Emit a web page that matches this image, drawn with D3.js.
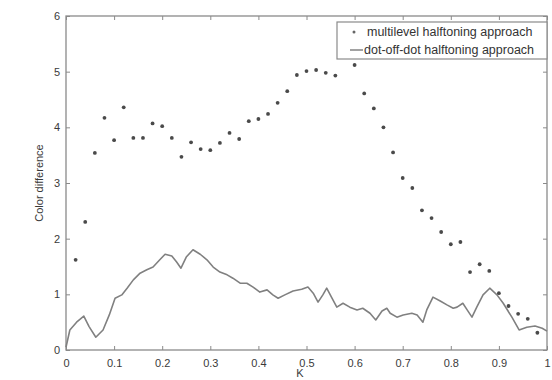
<!DOCTYPE html>
<html>
<head>
<meta charset="utf-8">
<script src="https://cdn.jsdelivr.net/npm/d3@7"></script>
<style>
  html, body { margin: 0; padding: 0; background: #fff; }
  svg { display: block; font-family: "Liberation Sans", Arial, sans-serif; }
</style>
</head>
<body>
<svg id="chart" width="552" height="380"></svg>
<script>
// ---- data ----
const multiX = [0.02,0.04,0.06,0.08,0.10,0.12,0.14,0.16,0.18,0.20,0.22,0.24,0.26,0.28,0.30,0.32,0.34,0.36,0.38,0.40,0.42,0.44,0.46,0.48,0.50,0.52,0.54,0.56,0.58,0.60,0.62,0.64,0.66,0.68,0.70,0.72,0.74,0.76,0.78,0.80,0.82,0.84,0.86,0.88,0.90,0.92,0.94,0.96,0.98];
const multiY = [1.62,2.30,3.54,4.17,3.77,4.36,3.81,3.81,4.07,4.02,3.81,3.47,3.73,3.61,3.59,3.72,3.90,3.79,4.11,4.15,4.24,4.44,4.65,4.94,5.01,5.03,4.98,4.93,5.30,5.12,4.61,4.34,4.00,3.55,3.09,2.91,2.51,2.37,2.12,1.90,1.94,1.40,1.54,1.42,1.02,0.79,0.65,0.56,0.31];

const dotX = [0,0.008,0.022,0.037,0.048,0.062,0.077,0.09,0.102,0.116,0.127,0.14,0.154,0.168,0.181,0.195,0.206,0.22,0.23,0.239,0.25,0.264,0.279,0.293,0.306,0.32,0.335,0.347,0.362,0.376,0.389,0.403,0.418,0.43,0.441,0.455,0.472,0.49,0.503,0.514,0.524,0.534,0.542,0.553,0.563,0.576,0.59,0.605,0.617,0.632,0.644,0.657,0.667,0.674,0.688,0.701,0.719,0.73,0.742,0.75,0.763,0.778,0.792,0.805,0.813,0.825,0.834,0.844,0.854,0.867,0.881,0.896,0.909,0.927,0.942,0.958,0.975,0.99,1.0];
const dotY = [0.05,0.36,0.5,0.61,0.42,0.23,0.36,0.63,0.93,0.99,1.11,1.26,1.38,1.44,1.49,1.62,1.72,1.69,1.58,1.47,1.67,1.80,1.72,1.62,1.49,1.40,1.35,1.29,1.20,1.20,1.13,1.04,1.08,0.99,0.93,0.99,1.06,1.09,1.13,1.02,0.86,0.99,1.11,0.93,0.77,0.84,0.77,0.72,0.75,0.66,0.54,0.70,0.75,0.66,0.59,0.63,0.66,0.63,0.50,0.72,0.95,0.88,0.81,0.75,0.77,0.84,0.72,0.59,0.77,0.99,1.11,0.99,0.84,0.59,0.36,0.41,0.43,0.39,0.34];

const xTicks = [0,0.1,0.2,0.3,0.4,0.5,0.6,0.7,0.8,0.9,1];
const xTickLabels = ["0","0.1","0.2","0.3","0.4","0.5","0.6","0.7","0.8","0.9","1"];
const yTicks = [0,1,2,3,4,5,6];
const yTickLabels = ["0","1","2","3","4","5","6"];
const seriesNames = ["multilevel halftoning approach","dot-off-dot halftoning approach"];
const xLabel = "K";
const yLabel = "Color difference";

// ---- layout ----
const L = 66, R = 547, T = 16, B = 350;
const svg = d3.select("#chart");
const x = d3.scaleLinear().domain([0,1]).range([L,R]);
const y = d3.scaleLinear().domain([0,6]).range([B,T]);

const frameColor = "#8a8a8a";
const textColor = "#3a3a3a";

// frame
svg.append("rect").attr("x",L).attr("y",T).attr("width",R-L).attr("height",B-T)
  .attr("fill","#fff").attr("stroke",frameColor).attr("stroke-width",1.3);

// axes (ticks inward)
const fmtX = (d,i) => xTickLabels[i];
const fmtY = (d,i) => yTickLabels[i];
const gx = svg.append("g").attr("transform",`translate(0,${B})`)
  .call(d3.axisBottom(x).tickValues(xTicks).tickFormat(fmtX).tickSizeInner(-4).tickSizeOuter(0).tickPadding(9));
const gxt = svg.append("g").attr("transform",`translate(0,${T})`)
  .call(d3.axisTop(x).tickValues(xTicks).tickFormat("").tickSizeInner(-4).tickSizeOuter(0));
const gy = svg.append("g").attr("transform",`translate(${L},0)`)
  .call(d3.axisLeft(y).tickValues(yTicks).tickFormat(fmtY).tickSizeInner(-4).tickSizeOuter(0).tickPadding(6));
const gyr = svg.append("g").attr("transform",`translate(${R},0)`)
  .call(d3.axisRight(y).tickValues(yTicks).tickFormat("").tickSizeInner(-4).tickSizeOuter(0));
[gx,gxt,gy,gyr].forEach(g => {
  g.select(".domain").remove();
  g.selectAll(".tick line").attr("stroke",frameColor);
  g.selectAll("text").attr("fill",textColor).attr("font-size",11);
});

// line series
const lineData = d3.zip(dotX, dotY);
svg.append("path").datum(lineData)
  .attr("fill","none").attr("stroke","#808080").attr("stroke-width",1.6)
  .attr("stroke-linejoin","round")
  .attr("d", d3.line().x(d=>x(d[0])).y(d=>y(d[1])));

// scatter series
const ptData = d3.zip(multiX, multiY);
svg.append("g").selectAll("circle").data(ptData).join("circle")
  .attr("cx",d=>x(d[0])).attr("cy",d=>y(d[1])).attr("r",1.9)
  .attr("fill","#4a4a4a");

// legend
const lg = svg.append("g");
const lx = 337, ly = 22, lw = R - lx, lh = 37;
lg.append("rect").attr("x",lx).attr("y",ly).attr("width",lw).attr("height",lh)
  .attr("fill","#fff").attr("stroke",frameColor).attr("stroke-width",1.2);
lg.append("circle").attr("cx",354).attr("cy",ly+10).attr("r",1.5).attr("fill","#666");
lg.append("line").attr("x1",350).attr("x2",363).attr("y1",ly+28).attr("y2",ly+28)
  .attr("stroke","#7a7a7a").attr("stroke-width",1.4);
lg.selectAll("text").data(seriesNames).join("text")
  .attr("x",(d,i)=> i===0 ? 367 : 364).attr("y",(d,i)=>ly+14+i*18)
  .attr("font-size",12.5).attr("fill","#333").text(d=>d);

// axis labels
svg.append("text").attr("x",300).attr("y",377).attr("text-anchor","middle")
  .attr("font-size",11).attr("fill",textColor).text(xLabel);
svg.append("text").attr("transform",`translate(43,${(T+B)/2}) rotate(-90)`)
  .attr("text-anchor","middle").attr("font-size",11).attr("fill",textColor).text(yLabel);
</script>
</body>
</html>
